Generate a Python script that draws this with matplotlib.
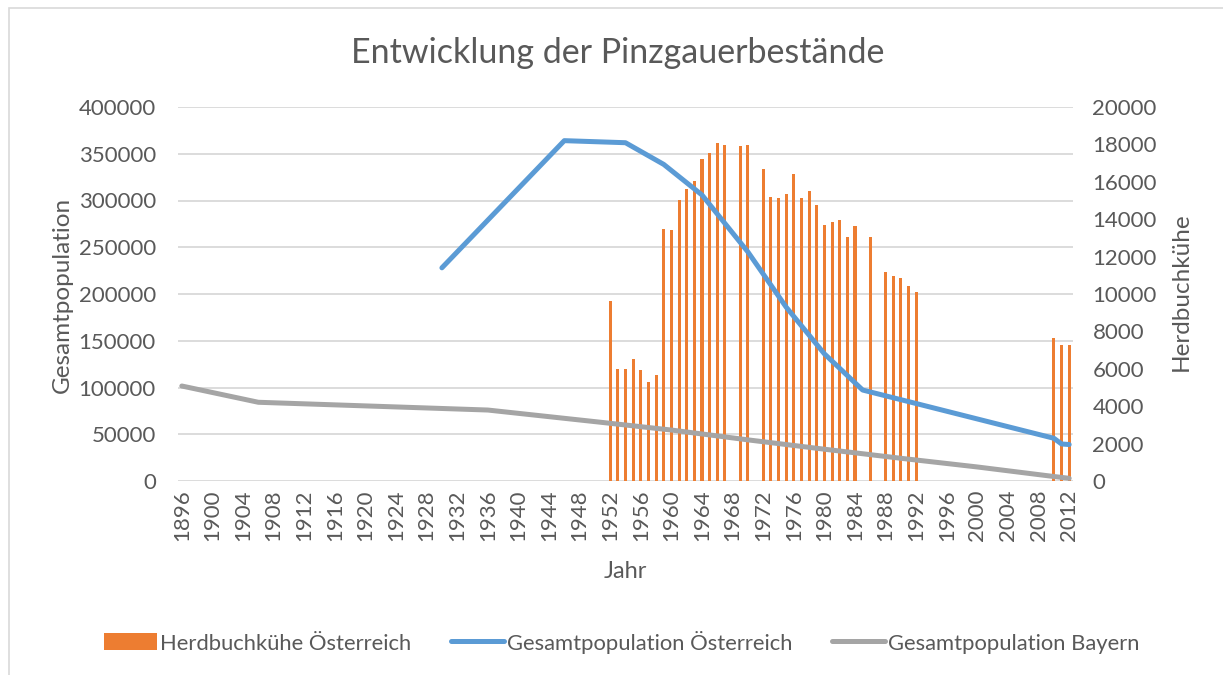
import matplotlib
matplotlib.use("Agg")
import matplotlib.pyplot as plt
from matplotlib.patches import Rectangle, Patch
from matplotlib.lines import Line2D

#------------------------------------------------------------------------
#                               Data
#------------------------------------------------------------------------
herdbuch_years = [1952, 1953, 1954, 1955, 1956, 1957, 1958, 1959, 1960, 1961,
                  1962, 1963, 1964, 1965, 1966, 1967, 1969, 1970, 1972, 1973,
                  1974, 1975, 1976, 1977, 1978, 1979, 1980, 1981, 1982, 1983,
                  1984, 1986, 1988, 1989, 1990, 1991, 1992, 2010, 2011, 2012]
herdbuch_kuehe = [9630, 5970, 6000, 6510, 5920, 5310, 5690, 13480, 13400, 15030,
                  15610, 16020, 17240, 17540, 18090, 17950, 17900, 17990, 16680, 15200,
                  15150, 15330, 16420, 15120, 15510, 14740, 13690, 13850, 13960, 13050,
                  13640, 13070, 11190, 10950, 10840, 10440, 10090, 7630, 7290, 7260]

at_years = [1930, 1946, 1954, 1959, 1964, 1970, 1975, 1980, 1985, 2010, 2011, 2012]
at_total = [228000, 364000, 361800, 338600, 305900, 245000, 186000, 136000, 97300,
            45700, 39600, 39000]

by_years = [1896, 1906, 1936, 1950, 1960, 1970, 1980, 1990, 2000, 2010, 2012]
by_total = [101600, 84200, 75900, 63500, 54500, 44000, 34000, 24300, 15000, 4800, 2900]

year_ticks = list(range(1896, 2013, 4))
left_ticks = list(range(0, 400001, 50000))
right_ticks = list(range(0, 20001, 2000))

#------------------------------------------------------------------------
#                               Style
#------------------------------------------------------------------------
plt.rcParams['font.family'] = ['Lato', 'DejaVu Sans']
TXT = '#595959'
GRID = '#D9D9D9'
ORANGE = '#ED7D31'
BLUE = '#5B9BD5'
GRAY = '#A5A5A5'

W, H = 1223, 675
fig = plt.figure(figsize=(W / 100, H / 100), dpi=100)

# chart frame (only left and top edge visible in picture)
fig.patches.append(Rectangle((9 / W, -0.05), 1.1, 1.05 - 8 / H, transform=fig.transFigure,
                             fill=False, edgecolor=GRID, linewidth=1.2))

left, right = 178 / W, 1073 / W
bottom, top = 1 - 481 / H, 1 - 107 / H
ax = fig.add_axes([left, bottom, right - left, top - bottom])

# host axis: gridlines + left labels
ax.set_xlim(1895.5, 2012.5)
ax.set_ylim(0, 400000)
ax.set_yticks(left_ticks)
ax.set_xticks(year_ticks)
ax.set_xticklabels([str(y) for y in year_ticks], rotation=90)
ax.grid(axis='y', color=GRID, linewidth=1.3)
ax.set_axisbelow(True)
for s in ax.spines.values():
    s.set_visible(False)
ax.tick_params(axis='y', length=0, pad=16, labelsize=16, labelcolor=TXT)
ax.tick_params(axis='x', length=0, pad=6, labelsize=16, labelcolor=TXT)

# bars on secondary axis
ax2 = ax.twinx()
ax2.bar(herdbuch_years, herdbuch_kuehe, width=0.4, color=ORANGE, zorder=2)
ax2.set_ylim(0, 20000)
ax2.set_yticks(right_ticks)
for s in ax2.spines.values():
    s.set_visible(False)
ax2.tick_params(axis='y', length=0, pad=14, labelsize=16, labelcolor=TXT)

# lines on top, same scale as left axis
ax3 = ax.twinx()
ax3.set_ylim(0, 400000)
ax3.set_yticks([])
for s in ax3.spines.values():
    s.set_visible(False)
ax3.plot(at_years, at_total, color=BLUE, lw=3.6, solid_capstyle='round', solid_joinstyle='round')
ax3.plot(by_years, by_total, color=GRAY, lw=3.6, solid_capstyle='round', solid_joinstyle='round')

#------------------------------------------------------------------------
#                               Texts
#------------------------------------------------------------------------
fig.text(618 / W, 1 - 53 / H, 'Entwicklung der Pinzgauerbestände', ha='center', va='center',
         fontsize=24.5, color=TXT)
fig.text(62 / W, 1 - 295 / H, 'Gesamtpopulation', rotation=90, ha='center', va='center',
         fontsize=17.5, color=TXT)
fig.text(1181 / W, 1 - 292 / H, 'Herdbuchkühe', rotation=90, ha='center', va='center',
         fontsize=17.5, color=TXT)
fig.text(625 / W, 1 - 572 / H, 'Jahr', ha='center', va='center', fontsize=17, color=TXT)

handles = [Patch(facecolor=ORANGE, edgecolor='none'),
           Line2D([], [], color=BLUE, lw=3.6, solid_capstyle='round'),
           Line2D([], [], color=GRAY, lw=3.6, solid_capstyle='round')]
labels = ['Herdbuchkühe Österreich', 'Gesamtpopulation Österreich', 'Gesamtpopulation Bayern']
fig.legend(handles, labels, loc='center', bbox_to_anchor=(622 / W, 1 - 642 / H), ncol=3,
           frameon=False, fontsize=15.8, labelcolor=TXT, handlelength=2.4,
           handleheight=0.8, handletextpad=0.15, columnspacing=1.8)

fig.savefig('out.png', dpi=100)
